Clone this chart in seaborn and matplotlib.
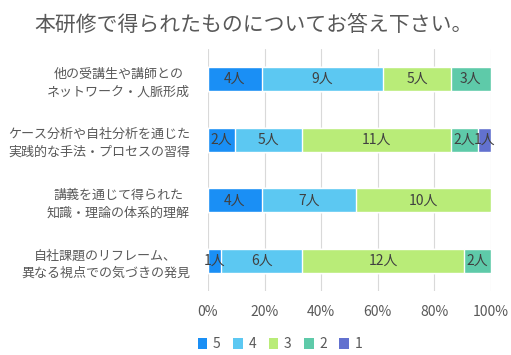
import numpy as np
import pandas as pd
import matplotlib
matplotlib.use("Agg")
import matplotlib.pyplot as plt
from matplotlib.patches import Patch
import seaborn as sns

categories = [
    "他の受講生や講師との\nネットワーク・人脈形成",
    "ケース分析や自社分析を通じた\n実践的な手法・プロセスの習得",
    "講義を通じて得られた\n知識・理論の体系的理解",
    "自社課題のリフレーム、\n異なる視点での気づきの発見",
]
series_names = ["5", "4", "3", "2", "1"]
s5 = [4, 2, 4, 1]
s4 = [9, 5, 7, 6]
s3 = [5, 11, 10, 12]
s2 = [3, 2, 0, 2]
s1 = [0, 1, 0, 0]
colors = ["#1a8ff5", "#5cc8f2", "#b9ec78", "#5ecaa9", "#6271cf"]
tick_labels = ["0%", "20%", "40%", "60%", "80%", "100%"]

sns.set_theme(style="white")
plt.rcParams['font.family'] = ['Noto Sans CJK JP', 'DejaVu Sans']

counts = np.array([s5, s4, s3, s2, s1], dtype=float)
totals = counts.sum(axis=0)
pct = counts / totals * 100
cum = np.cumsum(pct, axis=0)

fig = plt.figure(figsize=(5.11, 3.55), dpi=100)
ax = fig.add_axes([0.407, 0.180, 0.554, 0.682])

# draw cumulative bars from largest to smallest so they stack
for i in range(len(series_names) - 1, -1, -1):
    df = pd.DataFrame({"cat": categories, "val": cum[i]})
    sns.barplot(data=df, x="val", y="cat", orient="h", color=colors[i],
                saturation=1, width=0.4, ax=ax, zorder=2)

# labels
for i in range(len(series_names)):
    start = cum[i] - pct[i]
    for j in range(len(categories)):
        if counts[i, j] > 0:
            ax.text(start[j] + pct[i, j] / 2, j, f"{int(counts[i, j])}人",
                    ha="center", va="center", fontsize=10, color="#404040", zorder=3)

ax.set_xlim(0, 100)
ax.set_ylim(3.5, -0.5)
ax.set_xticks([0, 20, 40, 60, 80, 100])
ax.set_xticklabels(tick_labels)
ax.set_xlabel("")
ax.set_ylabel("")
ax.grid(axis="x", color="#d9d9d9", linewidth=0.8, zorder=0)
ax.set_axisbelow(True)
for sp in ax.spines.values():
    sp.set_visible(False)
ax.tick_params(axis="x", colors="#595959", labelsize=10, pad=10, length=0)
ax.tick_params(axis="y", colors="#595959", labelsize=9.4, pad=13, length=0)
for lab in ax.get_yticklabels():
    lab.set_multialignment("center")
    lab.set_linespacing(1.45)

fig.text(0.068, 0.93, "本研修で得られたものについてお答え下さい。", fontsize=15,
         color="#595959", ha="left", va="center")

handles = [Patch(facecolor=c, edgecolor="none", label=n) for c, n in zip(colors, series_names)]
leg = fig.legend(handles=handles, loc="center", bbox_to_anchor=(0.548, 0.03), ncol=5,
                 frameon=False, fontsize=10, handlelength=0.7, handleheight=0.9,
                 handletextpad=0.4, columnspacing=0.9)
for t in leg.get_texts():
    t.set_color("#595959")

fig.savefig("out.png", dpi=100)
